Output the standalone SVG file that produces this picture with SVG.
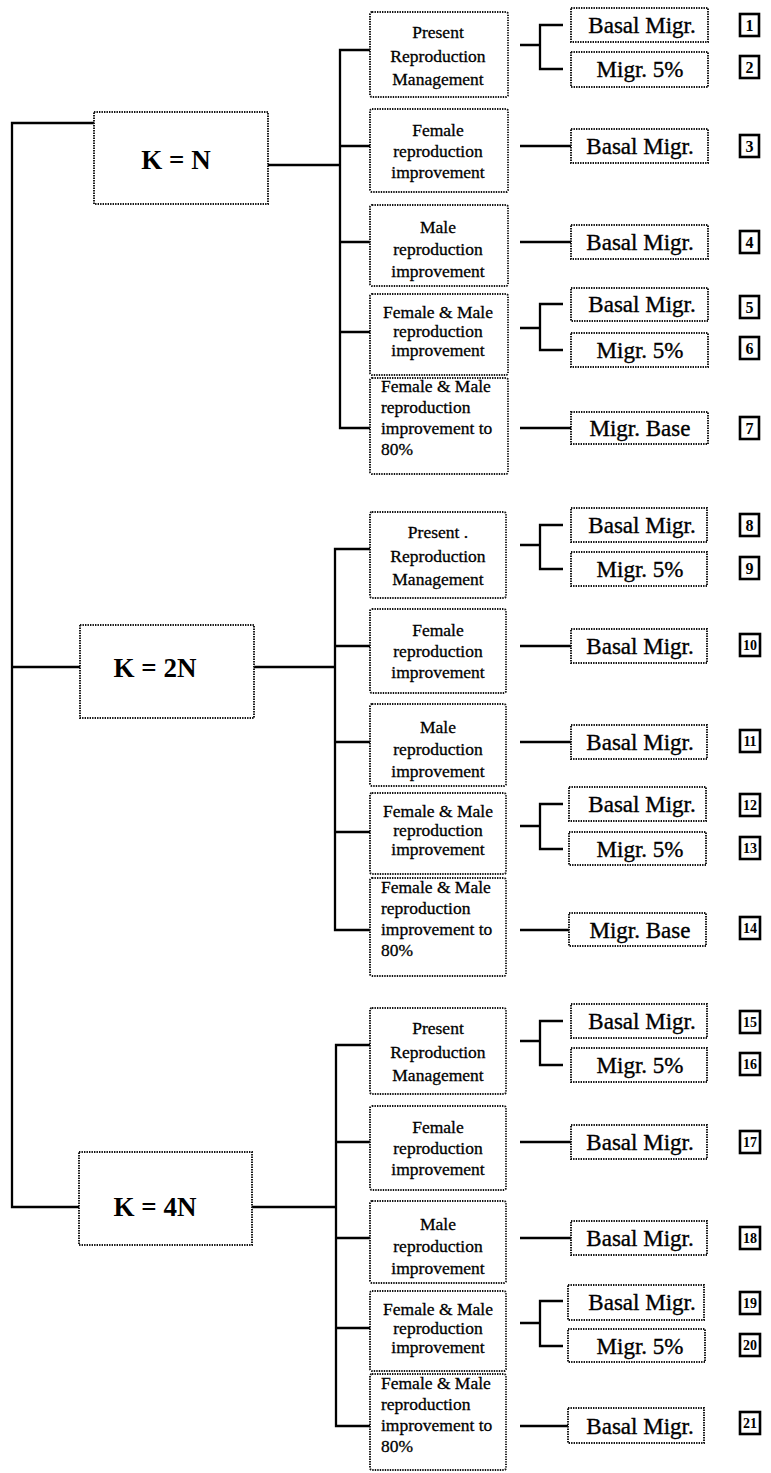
<svg xmlns="http://www.w3.org/2000/svg" width="771" height="1473" viewBox="0 0 771 1473">
<defs>
<style>
.box{fill:#fff;stroke:#111;stroke-width:1.9;stroke-dasharray:1.4 1.1}
.ln{stroke:#000;stroke-width:2.3;fill:none}
.num{fill:#fff;stroke:#000;stroke-width:2.6}
text{font-family:"Liberation Serif","Times New Roman",serif;fill:#000}
.t2{font-size:17.5px;text-anchor:middle;stroke:#000;stroke-width:0.3}
.t2l{font-size:17.5px;text-anchor:start;stroke:#000;stroke-width:0.3}
.t3{font-size:23px;text-anchor:middle;stroke:#000;stroke-width:0.35}
.tk{font-size:27px;font-weight:bold;text-anchor:middle}
.tn{font-size:16px;font-weight:bold;text-anchor:middle}
.tn2{font-size:14px;font-weight:bold;text-anchor:middle}
</style>
</defs>
<rect x="0" y="0" width="771" height="1473" fill="#fff"/>

<g id="connectors">
<path class="ln" d="M94,123 H12 V1207 H79 M12,667 H80"/>
<!-- section 1 -->
<path class="ln" d="M268,165 H340 M370,50 H340 V428 H370 M340,146 H370 M340,242 H370 M340,332 H370"/>
<path class="ln" d="M520,45 H540 M563,25 H540 V69 H563 M520,146 H571 M520,242 H571 M520,328 H540 M563,304 H540 V350 H563 M520,428 H571"/>
<!-- section 2 -->
<path class="ln" d="M254,667 H335 M370,549 H335 V930 H370 M335,646 H370 M335,742 H370 M335,832 H370"/>
<path class="ln" d="M520,545 H540 M563,525 H540 V569 H563 M520,646 H571 M520,742 H571 M520,826 H540 M563,804 H540 V849 H563 M520,930 H571"/>
<!-- section 3 -->
<path class="ln" d="M252,1207 H336 M370,1045 H336 V1426 H370 M336,1142 H370 M336,1238 H370 M336,1328 H370"/>
<path class="ln" d="M520,1041 H540 M563,1021 H540 V1065 H563 M520,1142 H571 M520,1238 H571 M520,1323 H540 M563,1301 H540 V1346 H563 M520,1426 H571"/>
</g>

<!-- K nodes -->
<g id="k1"><rect class="box" x="94" y="112" width="174" height="92"/><text class="tk" x="176" y="169">K = N</text></g>
<g id="k2"><rect class="box" x="80" y="625" width="174" height="93"/><text class="tk" x="155" y="677">K = 2N</text></g>
<g id="k4"><rect class="box" x="79" y="1152" width="173" height="93"/><text class="tk" x="155" y="1216">K = 4N</text></g>

<!-- Section 1 level 2 -->
<g id="s1p"><rect class="box" x="370" y="12" width="138" height="85" rx="2"/><text class="t2" x="438" y="38">Present</text><text class="t2" x="438" y="62">Reproduction</text><text class="t2" x="438" y="85">Management</text></g>
<g id="s1f"><rect class="box" x="370" y="109" width="138" height="83" rx="2"/><text class="t2" x="438" y="136">Female</text><text class="t2" x="438" y="157">reproduction</text><text class="t2" x="438" y="178">improvement</text></g>
<g id="s1m"><rect class="box" x="370" y="205" width="138" height="81" rx="2"/><text class="t2" x="438" y="233">Male</text><text class="t2" x="438" y="255">reproduction</text><text class="t2" x="438" y="277">improvement</text></g>
<g id="s1fm"><rect class="box" x="370" y="294" width="138" height="81" rx="2"/><text class="t2" x="438" y="318">Female &amp; Male</text><text class="t2" x="438" y="337">reproduction</text><text class="t2" x="438" y="356">improvement</text></g>
<g id="s1fm80"><rect class="box" x="370" y="378" width="138" height="96" rx="2"/><text class="t2l" x="381" y="392">Female &amp; Male</text><text class="t2l" x="381" y="413">reproduction</text><text class="t2l" x="381" y="434">improvement to</text><text class="t2l" x="381" y="455">80%</text></g>

<!-- Section 1 level 3 -->
<g id="s1o1"><rect class="box" x="571" y="8" width="137" height="34"/><text class="t3" x="642" y="33">Basal Migr.</text></g>
<g id="s1o2"><rect class="box" x="571" y="52" width="137" height="35"/><text class="t3" x="640" y="77">Migr. 5%</text></g>
<g id="s1o3"><rect class="box" x="571" y="129" width="137" height="34"/><text class="t3" x="640" y="154">Basal Migr.</text></g>
<g id="s1o4"><rect class="box" x="571" y="225" width="137" height="34"/><text class="t3" x="640" y="250">Basal Migr.</text></g>
<g id="s1o5"><rect class="box" x="571" y="288" width="137" height="33"/><text class="t3" x="642" y="312">Basal Migr.</text></g>
<g id="s1o6"><rect class="box" x="571" y="333" width="137" height="34"/><text class="t3" x="640" y="358">Migr. 5%</text></g>
<g id="s1o7"><rect class="box" x="571" y="412" width="137" height="32"/><text class="t3" x="640" y="436">Migr. Base</text></g>

<!-- Section 1 numbers -->
<g id="n1"><rect class="num" x="740" y="14" width="19" height="22"/><text class="tn" x="749.5" y="31">1</text></g>
<g id="n2"><rect class="num" x="740" y="56" width="19" height="22"/><text class="tn" x="749.5" y="73">2</text></g>
<g id="n3"><rect class="num" x="740" y="135" width="19" height="22"/><text class="tn" x="749.5" y="152">3</text></g>
<g id="n4"><rect class="num" x="740" y="231" width="19" height="22"/><text class="tn" x="749.5" y="248">4</text></g>
<g id="n5"><rect class="num" x="740" y="296" width="19" height="22"/><text class="tn" x="749.5" y="313">5</text></g>
<g id="n6"><rect class="num" x="740" y="337" width="19" height="22"/><text class="tn" x="749.5" y="354">6</text></g>
<g id="n7"><rect class="num" x="740" y="417" width="19" height="22"/><text class="tn" x="749.5" y="434">7</text></g>

<!-- Section 2 level 2 -->
<g id="s2p"><rect class="box" x="370" y="512" width="136" height="86" rx="2"/><text class="t2" x="438" y="538">Present .</text><text class="t2" x="438" y="562">Reproduction</text><text class="t2" x="438" y="585">Management</text></g>
<g id="s2f"><rect class="box" x="370" y="609" width="136" height="84" rx="2"/><text class="t2" x="438" y="636">Female</text><text class="t2" x="438" y="657">reproduction</text><text class="t2" x="438" y="678">improvement</text></g>
<g id="s2m"><rect class="box" x="370" y="704" width="136" height="82" rx="2"/><text class="t2" x="438" y="733">Male</text><text class="t2" x="438" y="755">reproduction</text><text class="t2" x="438" y="777">improvement</text></g>
<g id="s2fm"><rect class="box" x="370" y="793" width="136" height="81" rx="2"/><text class="t2" x="438" y="817">Female &amp; Male</text><text class="t2" x="438" y="836">reproduction</text><text class="t2" x="438" y="855">improvement</text></g>
<g id="s2fm80"><rect class="box" x="370" y="878" width="136" height="98" rx="2"/><text class="t2l" x="381" y="893">Female &amp; Male</text><text class="t2l" x="381" y="914">reproduction</text><text class="t2l" x="381" y="935">improvement to</text><text class="t2l" x="381" y="956">80%</text></g>

<!-- Section 2 level 3 -->
<g id="s2o8"><rect class="box" x="571" y="508" width="136" height="34"/><text class="t3" x="642" y="533">Basal Migr.</text></g>
<g id="s2o9"><rect class="box" x="571" y="552" width="136" height="34"/><text class="t3" x="640" y="577">Migr. 5%</text></g>
<g id="s2o10"><rect class="box" x="571" y="629" width="136" height="34"/><text class="t3" x="640" y="654">Basal Migr.</text></g>
<g id="s2o11"><rect class="box" x="571" y="725" width="136" height="34"/><text class="t3" x="640" y="750">Basal Migr.</text></g>
<g id="s2o12"><rect class="box" x="569" y="787" width="137" height="34"/><text class="t3" x="642" y="812">Basal Migr.</text></g>
<g id="s2o13"><rect class="box" x="569" y="832" width="137" height="33"/><text class="t3" x="640" y="857">Migr. 5%</text></g>
<g id="s2o14"><rect class="box" x="569" y="913" width="137" height="33"/><text class="t3" x="640" y="938">Migr. Base</text></g>

<!-- Section 2 numbers -->
<g id="n8"><rect class="num" x="740" y="514" width="19" height="22"/><text class="tn" x="749.5" y="531">8</text></g>
<g id="n9"><rect class="num" x="740" y="557" width="19" height="22"/><text class="tn" x="749.5" y="574">9</text></g>
<g id="n10"><rect class="num" x="740" y="634" width="20" height="22"/><text class="tn2" x="750" y="650">10</text></g>
<g id="n11"><rect class="num" x="740" y="730" width="20" height="22"/><text class="tn2" x="750" y="746">11</text></g>
<g id="n12"><rect class="num" x="740" y="794" width="20" height="22"/><text class="tn2" x="750" y="810">12</text></g>
<g id="n13"><rect class="num" x="740" y="837" width="20" height="22"/><text class="tn2" x="750" y="853">13</text></g>
<g id="n14"><rect class="num" x="740" y="917" width="20" height="22"/><text class="tn2" x="750" y="933">14</text></g>

<!-- Section 3 level 2 -->
<g id="s3p"><rect class="box" x="370" y="1008" width="136" height="86" rx="2"/><text class="t2" x="438" y="1034">Present</text><text class="t2" x="438" y="1058">Reproduction</text><text class="t2" x="438" y="1081">Management</text></g>
<g id="s3f"><rect class="box" x="370" y="1106" width="136" height="84" rx="2"/><text class="t2" x="438" y="1133">Female</text><text class="t2" x="438" y="1154">reproduction</text><text class="t2" x="438" y="1175">improvement</text></g>
<g id="s3m"><rect class="box" x="370" y="1201" width="136" height="82" rx="2"/><text class="t2" x="438" y="1230">Male</text><text class="t2" x="438" y="1252">reproduction</text><text class="t2" x="438" y="1274">improvement</text></g>
<g id="s3fm"><rect class="box" x="370" y="1291" width="136" height="80" rx="2"/><text class="t2" x="438" y="1315">Female &amp; Male</text><text class="t2" x="438" y="1334">reproduction</text><text class="t2" x="438" y="1353">improvement</text></g>
<g id="s3fm80"><rect class="box" x="370" y="1374" width="136" height="96" rx="2"/><text class="t2l" x="381" y="1389">Female &amp; Male</text><text class="t2l" x="381" y="1410">reproduction</text><text class="t2l" x="381" y="1431">improvement to</text><text class="t2l" x="381" y="1452">80%</text></g>

<!-- Section 3 level 3 -->
<g id="s3o15"><rect class="box" x="571" y="1004" width="136" height="34"/><text class="t3" x="642" y="1029">Basal Migr.</text></g>
<g id="s3o16"><rect class="box" x="571" y="1048" width="136" height="34"/><text class="t3" x="640" y="1073">Migr. 5%</text></g>
<g id="s3o17"><rect class="box" x="571" y="1125" width="136" height="34"/><text class="t3" x="640" y="1150">Basal Migr.</text></g>
<g id="s3o18"><rect class="box" x="571" y="1221" width="136" height="34"/><text class="t3" x="640" y="1246">Basal Migr.</text></g>
<g id="s3o19"><rect class="box" x="568" y="1285" width="136" height="35"/><text class="t3" x="642" y="1310">Basal Migr.</text></g>
<g id="s3o20"><rect class="box" x="568" y="1329" width="137" height="33"/><text class="t3" x="640" y="1354">Migr. 5%</text></g>
<g id="s3o21"><rect class="box" x="568" y="1408" width="136" height="35"/><text class="t3" x="640" y="1434">Basal Migr.</text></g>

<!-- Section 3 numbers -->
<g id="n15"><rect class="num" x="740" y="1011" width="20" height="22"/><text class="tn2" x="750" y="1027">15</text></g>
<g id="n16"><rect class="num" x="740" y="1053" width="20" height="22"/><text class="tn2" x="750" y="1069">16</text></g>
<g id="n17"><rect class="num" x="740" y="1131" width="20" height="22"/><text class="tn2" x="750" y="1147">17</text></g>
<g id="n18"><rect class="num" x="740" y="1227" width="20" height="22"/><text class="tn2" x="750" y="1243">18</text></g>
<g id="n19"><rect class="num" x="740" y="1292" width="20" height="22"/><text class="tn2" x="750" y="1308">19</text></g>
<g id="n20"><rect class="num" x="740" y="1334" width="20" height="22"/><text class="tn2" x="750" y="1350">20</text></g>
<g id="n21"><rect class="num" x="740" y="1412" width="20" height="22"/><text class="tn2" x="750" y="1428">21</text></g>
</svg>
